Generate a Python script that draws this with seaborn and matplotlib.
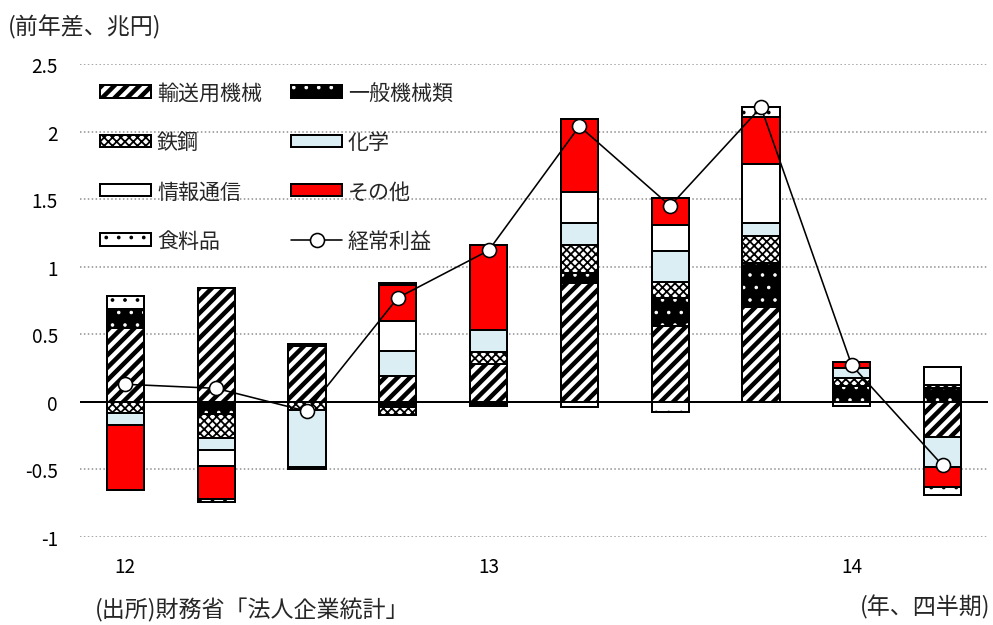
import numpy as np
import matplotlib
matplotlib.use("Agg")
import matplotlib.pyplot as plt
import seaborn as sns
from matplotlib.patches import Patch, Rectangle
from matplotlib.lines import Line2D
from matplotlib.legend_handler import HandlerTuple

# ---- data (前年差、兆円) ----
quarters = ["12", "", "", "", "13", "", "", "", "14", ""]
transport = [0.55, 0.84, 0.41, 0.19, 0.28, 0.88, 0.56, 0.70, 0.00, -0.26]
machinery = [0.14, -0.09, 0.015, -0.04, -0.03, 0.075, 0.21, 0.33, 0.12, 0.10]
steel = [-0.08, -0.18, -0.06, -0.06, 0.09, 0.205, 0.12, 0.195, 0.06, 0.025]
chemical = [-0.09, -0.085, -0.42, 0.185, 0.16, 0.16, 0.225, 0.095, 0.07, -0.22]
info = [0.0, -0.12, 0.0, 0.22, 0.0, 0.23, 0.195, 0.44, -0.03, 0.13]
other = [-0.48, -0.245, 0.0, 0.27, 0.63, 0.54, 0.20, 0.345, 0.045, -0.15]
food = [0.09, -0.02, -0.02, 0.015, 0.0, -0.04, -0.075, 0.075, 0.0, -0.06]
profit = [0.13, 0.10, -0.07, 0.77, 1.12, 2.04, 1.45, 2.18, 0.27, -0.47]

series_names = ["輸送用機械", "一般機械類", "鉄鋼", "化学", "情報通信", "その他", "食料品"]
series_vals = [transport, machinery, steel, chemical, info, other, food]
# face colour, hatch pattern, hatch colour
styles = [
    ("white", "//", "black"),
    ("black", ".", "white"),
    ("white", "xxx", "black"),
    ("#DAEEF3", None, "black"),
    ("white", None, "black"),
    ("#FF0000", None, "black"),
    ("white", ".", "black"),
]
# hatch stroke widths in pixels
hatch_widths = [4.5, 1.0, 1.8, 1.0, 1.0, 1.0, 1.2]

DPI = 75
W, H = 993, 626


def px(v):
    """pixel size -> points at the working dpi"""
    return v * 72 / DPI


def use_hatch_width(artist, width_px):
    """give this artist its own hatch stroke width"""
    lw = px(width_px)
    if hasattr(artist, "set_hatch_linewidth"):
        artist.set_hatch_linewidth(lw)
    orig = artist.draw

    def draw(renderer, _orig=orig, _lw=lw):
        with plt.rc_context({"hatch.linewidth": _lw}):
            return _orig(renderer)

    artist.draw = draw


sns.set_theme(style="white")
plt.rcParams["font.family"] = ["Noto Sans CJK JP", "DejaVu Sans"]

fig = plt.figure(figsize=(W / DPI, H / DPI), dpi=DPI)
ax = fig.add_axes([80 / W, 1 - 538 / H, (988 - 80) / W, (538 - 65) / H])

x = np.arange(len(quarters))
bw = 0.41
pos_base = np.zeros(len(x))
neg_base = np.zeros(len(x))
segments = []
for vals in series_vals:
    v = np.array(vals, dtype=float)
    bottoms = np.where(v >= 0, pos_base, neg_base)
    segments.append((v, bottoms))
    pos_base = pos_base + np.clip(v, 0, None)
    neg_base = neg_base + np.clip(v, None, 0)

# fill + hatch layer
for (v, b), (fc, hatch, hc), hw in zip(segments, styles, hatch_widths):
    plt.rcParams["hatch.linewidth"] = px(hw)
    bars = ax.bar(x, v, bw, bottom=b, color=fc, edgecolor=hc, linewidth=0,
                  hatch=hatch, zorder=2)
    for p in bars:
        use_hatch_width(p, hw)
# outline layer
for v, b in segments:
    ax.bar(x, v, bw, bottom=b, fill=False, edgecolor="black",
           linewidth=px(2.0), zorder=2.5)

sns.lineplot(x=x, y=profit, ax=ax, color="black", linewidth=px(1.6),
             marker="o", markersize=px(14), markerfacecolor="white",
             markeredgecolor="black", markeredgewidth=px(1.6), zorder=4)

ax.set_xlim(-0.5, len(x) - 0.5)
ax.set_ylim(-1, 2.5)
yt = [-1, -0.5, 0, 0.5, 1, 1.5, 2, 2.5]
ax.set_yticks(yt)
ax.set_yticklabels(["-1", "-0.5", "0", "0.5", "1", "1.5", "2", "2.5"])
for t in yt:
    if t == 0:
        ax.axhline(0, color="black", linewidth=px(2.0), zorder=3)
    else:
        ax.axhline(t, color="#8C8C8C", linewidth=px(1.5),
                   linestyle=(0, (1, 1.6)), zorder=1)
ax.set_xticks(x)
ax.set_xticklabels(quarters)
ax.tick_params(axis="both", length=0, labelsize=px(19), colors="black")
ax.tick_params(axis="y", pad=px(22))
ax.tick_params(axis="x", pad=px(19))
for s in ax.spines.values():
    s.set_visible(False)
ax.grid(False)
ax.set_facecolor("none")


# legend handles: fill/hatch patch overlaid with a black outline
def make_handle(fc, hatch, hc, hw):
    plt.rcParams["hatch.linewidth"] = px(hw)
    fill = Patch(facecolor=fc, edgecolor=hc, linewidth=0, hatch=hatch)
    edge = Patch(facecolor="none", edgecolor="black", linewidth=px(2.0))
    return (fill, edge)


handles = {n: make_handle(*st, hw) for n, st, hw in zip(series_names, styles, hatch_widths)}
line_handle = Line2D([], [], color="black", linewidth=px(1.6), marker="o",
                     markersize=px(14), markerfacecolor="white",
                     markeredgecolor="black", markeredgewidth=px(1.6))
order = ["輸送用機械", "鉄鋼", "情報通信", "食料品", "一般機械類", "化学", "その他"]
leg_handles = [handles[n] for n in order] + [line_handle]
leg_labels = order + ["経常利益"]
fs = 21
leg = ax.legend(leg_handles, leg_labels, ncol=2, frameon=False,
                loc="upper left", bbox_to_anchor=(100 / W, 1 - 83 / H),
                bbox_transform=fig.transFigure, borderpad=0, borderaxespad=0,
                prop={"size": px(fs)}, handlelength=51 / fs, handleheight=0.55,
                handletextpad=6 / fs, columnspacing=29 / fs, labelspacing=1.3,
                handler_map={tuple: HandlerTuple(ndivide=1, pad=0)})
leg.set_zorder(5)
hatch_lw_by_pattern = {st[1]: hw for st, hw in zip(styles, hatch_widths) if st[1]}
for r in leg.findobj(Rectangle):
    h = r.get_hatch()
    if h in hatch_lw_by_pattern:
        use_hatch_width(r, hatch_lw_by_pattern[h])

fig.text(8 / W, 1 - 27 / H, "(前年差、兆円)", fontsize=px(23), va="center", ha="left")
fig.text(95 / W, 1 - 610 / H, "(出所)財務省「法人企業統計」", fontsize=px(23),
         va="center", ha="left")
fig.text(990 / W, 1 - 607 / H, "(年、四半期)", fontsize=px(23), va="center", ha="right")

fig.savefig("out.png", dpi=DPI)
